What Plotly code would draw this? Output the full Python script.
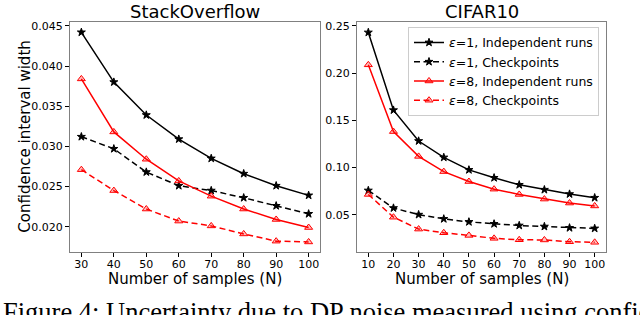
import plotly.graph_objects as go

# ---------------- data ----------------
so_n = [30, 40, 50, 60, 70, 80, 90, 100]
so_e1_indep = [0.0442, 0.0380, 0.0339, 0.0309, 0.0285, 0.0266, 0.0251, 0.0239]
so_e1_ckpt = [0.0312, 0.0297, 0.0268, 0.0251, 0.0245, 0.0236, 0.0226, 0.0216]
so_e8_indep = [0.0384, 0.0318, 0.0284, 0.0257, 0.0238, 0.0222, 0.0209, 0.0199]
so_e8_ckpt = [0.0271, 0.0245, 0.0222, 0.0207, 0.0201, 0.0191, 0.0182, 0.0181]

cf_n = [10, 20, 30, 40, 50, 60, 70, 80, 90, 100]
cf_e1_indep = [0.243, 0.1607, 0.128, 0.1106, 0.0974, 0.089, 0.0816, 0.0764, 0.0718, 0.0679]
cf_e1_ckpt = [0.0756, 0.057, 0.050, 0.0455, 0.0423, 0.0402, 0.0385, 0.0374, 0.036, 0.0354]
cf_e8_indep = [0.2087, 0.138, 0.1117, 0.0956, 0.0851, 0.077, 0.0714, 0.0665, 0.0623, 0.0592]
cf_e8_ckpt = [0.0714, 0.0473, 0.0347, 0.0308, 0.028, 0.0249, 0.0234, 0.0232, 0.0213, 0.0207]

so_yticks = [0.020, 0.025, 0.030, 0.035, 0.040, 0.045]
cf_yticks = [0.05, 0.10, 0.15, 0.20, 0.25]

series_names = ["<i>ε</i>=1, Independent runs", "<i>ε</i>=1, Checkpoints",
                "<i>ε</i>=8, Independent runs", "<i>ε</i>=8, Checkpoints"]
panel_titles = ["StackOverflow", "CIFAR10"]
x_title = "Number of samples (N)"
y_title = "Confidence interval width"
caption = "Figure 4: Uncertainty due to DP noise measured using confidence intervals"

# ---------------- styles ----------------
FONT = "DejaVu Sans"
DASH = "6px,3.5px"
styles = [
    dict(color="black", dash="solid", symbol="star", size=6, mfill="black"),
    dict(color="black", dash=DASH, symbol="star", size=6, mfill="black"),
    dict(color="red", dash="solid", symbol="triangle-up", size=7, mfill="rgba(255,0,0,0.25)"),
    dict(color="red", dash=DASH, symbol="triangle-up", size=7, mfill="rgba(255,0,0,0.25)"),
]

fig = go.Figure()

def add_panel(xs, ys_list, xa, ya, show):
    for name, ys, st in zip(series_names, ys_list, styles):
        fig.add_trace(go.Scatter(
            x=xs, y=ys, mode="lines+markers", name=name, showlegend=show,
            xaxis=xa, yaxis=ya,
            line=dict(color=st["color"], width=1.5, dash=st["dash"]),
            marker=dict(symbol=st["symbol"], size=st["size"],
                        color=st["mfill"], line=dict(color=st["color"], width=1)),
        ))

add_panel(so_n, [so_e1_indep, so_e1_ckpt, so_e8_indep, so_e8_ckpt], "x", "y", False)
add_panel(cf_n, [cf_e1_indep, cf_e1_ckpt, cf_e8_indep, cf_e8_ckpt], "x2", "y2", True)

W, H = 640, 315
def px(v):
    return v / W
def py(v):
    return 1 - v / H

axis_common = dict(showline=True, mirror=True, linecolor="#808080", linewidth=1,
                   ticks="outside", ticklen=4, tickcolor="black", tickwidth=1,
                   showgrid=False, zeroline=False,
                   tickfont=dict(family=FONT, size=11, color="black"))

fig.update_layout(
    width=W, height=H,
    margin=dict(l=0, r=0, t=0, b=0),
    paper_bgcolor="white", plot_bgcolor="white",
    font=dict(family=FONT, color="black"),
    xaxis=dict(domain=[px(70), px(320)], range=[26.5, 103.5], ticklabelstandoff=-3,
               tickvals=so_n, anchor="y", **axis_common),
    yaxis=dict(domain=[py(252), py(20)], range=[0.0168, 0.0455],
               tickvals=so_yticks, tickformat=".3f", anchor="x", **axis_common),
    xaxis2=dict(domain=[px(357), px(606)], range=[5.5, 104.5], ticklabelstandoff=-3,
                tickvals=cf_n, anchor="y2", **axis_common),
    yaxis2=dict(domain=[py(252), py(20)], range=[0.0100, 0.2542],
                tickvals=cf_yticks, tickformat=".2f", anchor="x2", **axis_common),
    legend=dict(x=px(408), y=py(25), xanchor="left", yanchor="top",
                bgcolor="white", bordercolor="#cccccc", borderwidth=1,
                font=dict(family=FONT, size=12.5, color="black"),
                itemwidth=30, tracegroupgap=0),
    showlegend=True,
)

ann = []
for cx, t in zip((195, 481.5), panel_titles):
    ann.append(dict(text=t, x=px(cx), y=py(10), xref="paper", yref="paper",
                    xanchor="center", yanchor="middle", showarrow=False,
                    font=dict(family=FONT, size=18, color="black")))
for cx in (195, 481.5):
    ann.append(dict(text=x_title, x=px(cx), y=py(279), xref="paper", yref="paper",
                    xanchor="center", yanchor="middle", showarrow=False,
                    font=dict(family=FONT, size=15, color="black")))
ann.append(dict(text=y_title, x=px(25.5), y=py(136), xref="paper", yref="paper",
                xanchor="center", yanchor="middle", textangle=-90, showarrow=False,
                font=dict(family=FONT, size=15, color="black")))
ann.append(dict(text=caption, x=px(1), y=py(295), xref="paper", yref="paper",
                xanchor="left", yanchor="top", showarrow=False,
                font=dict(family="Liberation Serif", size=26.5, color="black")))
fig.update_layout(annotations=ann)

# remove the browser's default 8px page margin so the figure sits at the window origin
fig.write_html("out.html", config={"displayModeBar": False},
               post_script="document.body.style.margin='0';document.body.style.overflow='hidden';")
